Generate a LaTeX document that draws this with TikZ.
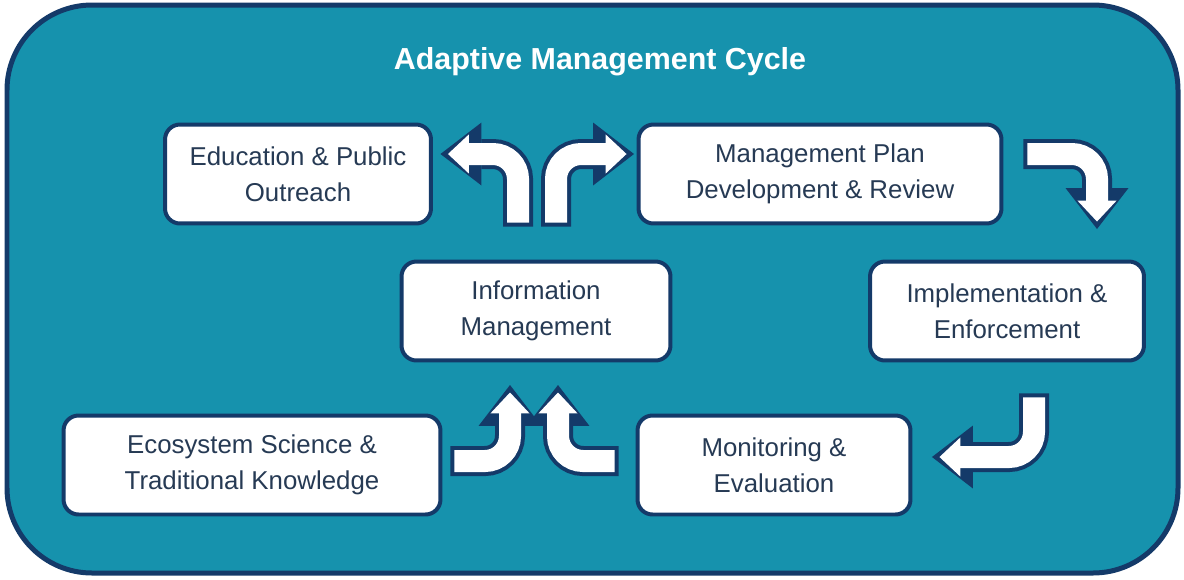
\documentclass[tikz,border=0pt]{standalone}
\usepackage{fontspec}
\setmainfont{Liberation Sans}
\usetikzlibrary{arrows.meta, positioning, calc}

\definecolor{oceanfill}{RGB}{22,146,173}
\definecolor{rimnavy}{RGB}{20,58,105}
\definecolor{boxtext}{RGB}{38,58,84}

\begin{document}
\begin{tikzpicture}[
		x=0.02cm, y=-0.02cm,
		box/.style={rectangle, draw=rimnavy, line width=0.08cm, fill=white, rounded corners=0.3cm, align=center, text=boxtext, font=\fontsize{14.7}{20.4}\selectfont, minimum height=1.98cm},
		heading/.style={font=\bfseries\fontsize{17.3}{20}\selectfont, text=white},
		arrowrim/.style={rimnavy, line width=0.6cm, rounded corners=0.5cm, shorten <=-0.08cm, shorten >=-0.15cm, -{Triangle[length=0.82cm, width=1.26cm, line width=0pt]}},
		arrowbody/.style={white, line width=0.44cm, rounded corners=0.5cm, -{Triangle[length=0.42cm, width=0.78cm, line width=0.03cm]}}
		]
		
		% Page and frame
		\fill[white] (0,0) rectangle (1184,579);
		\useasboundingbox (0,0) rectangle (1184,579);
		\draw[rimnavy, line width=0.1cm, fill=oceanfill, rounded corners=1.7cm] (7,5) rectangle (1178,573);
		
		% Title
		\node[heading] (cycle) at (600,62) {Adaptive Management Cycle};
		
		% Main boxes
		\node[box, minimum width=5.32cm] (edu) at (298,174) {Education \& Public\\Outreach};
		\node[box, minimum width=7.26cm] (plan) at (820,174) {Management Plan\\Development \& Review};
		\node[box, minimum width=5.38cm] (info) at (536,311) {Information\\Management};
		\node[box, minimum width=5.48cm] (impl) at (1007,311) {Implementation \&\\Enforcement};
		\node[box, minimum width=7.54cm] (eco) at (252,465) {Ecosystem Science \&\\Traditional Knowledge};
		\node[box, minimum width=5.46cm] (mon) at (774,465) {Monitoring \&\\Evaluation};
		
		% Arrows (navy rim first, white body on top)
		\foreach \layer in {arrowrim, arrowbody} {
			\draw[\layer] ($(info.north)+(-18,-37)$) |- ($(edu.east)+(15,-20)$);
			\draw[\layer] ($(info.north)+(20,-37)$) |- ($(plan.west)+(-10,-20)$);
			\draw[\layer] ($(plan.east)+(24,-20)$) -| ($(impl.north)+(90,-38)$);
			\draw[\layer] ($(impl.south)+(27,35)$) |- ($(mon.east)+(27,-8)$);
			\draw[\layer] ($(eco.east)+(12,-4)$) -| ($(info.south)+(-26,30)$);
			\draw[\layer] ($(mon.west)+(-21,-4)$) -| ($(info.south)+(22,30)$);
		}
		
	\end{tikzpicture}
\end{document}
